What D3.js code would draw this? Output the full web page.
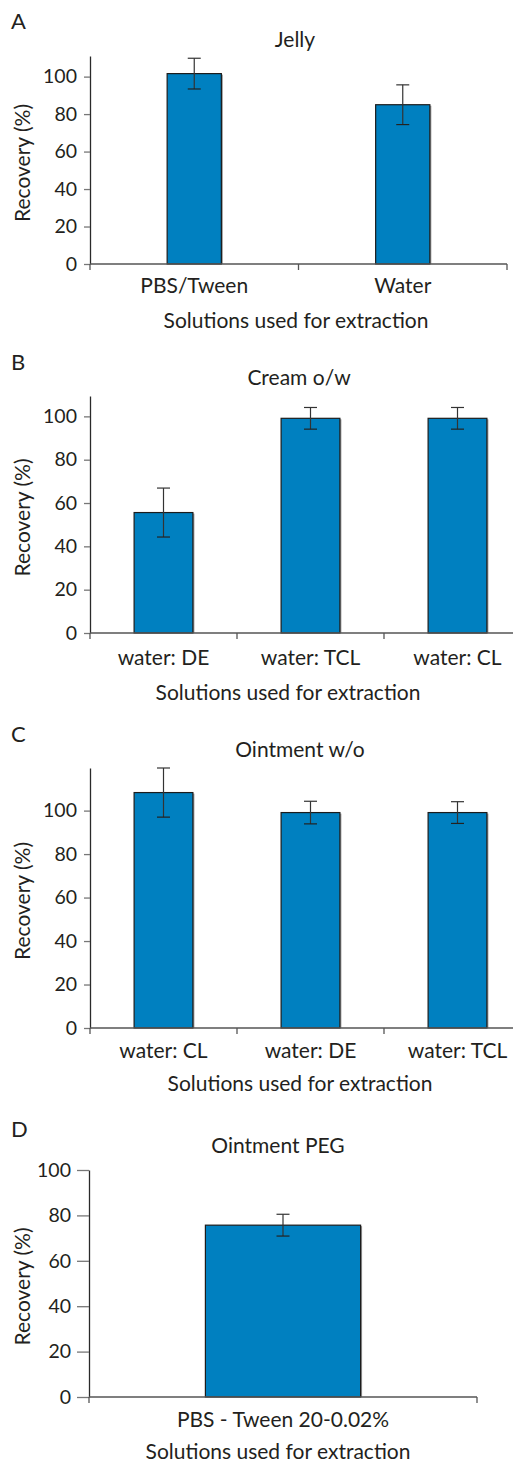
<!DOCTYPE html>
<html><head><meta charset="utf-8">
<script src="https://cdn.jsdelivr.net/npm/d3@7"></script>
<style>
html,body{margin:0;padding:0;background:#fff;}
svg{display:block;}
text{font-family:Lato, "Open Sans", sans-serif; fill:#231f20;}
</style></head>
<body>
<svg id="chart" width="513" height="1464"></svg>
<script>
// ---- data ----
const catsA = ["PBS/Tween", "Water"];
const valsA = [101.6, 85.0];
const errsA = [8.2, 10.6];

const catsB = ["water: DE", "water: TCL", "water: CL"];
const valsB = [55.6, 99.1, 99.1];
const errsB = [11.3, 5.0, 5.0];

const catsC = ["water: CL", "water: DE", "water: TCL"];
const valsC = [108.3, 99.1, 99.1];
const errsC = [11.3, 5.2, 5.0];

const catsD = ["PBS - Tween 20-0.02%"];
const valsD = [75.7];
const errsD = [4.8];

const yTicks = [0, 20, 40, 60, 80, 100];
const xTitle = "Solutions used for extraction";
const yTitle = "Recovery (%)";

// ---- layout ----
const panels = [
  {letter:"A", title:"Jelly", cats:catsA, vals:valsA, errs:errsA, yMax:111,
   x0:90, x1:507, yTop:56, yZero:264, barRatio:0.26, tick:6,
   letterY:29, titleX:295, titleY:47, labY:293, axTX:296, axTY:328},
  {letter:"B", title:"Cream o/w", cats:catsB, vals:valsB, errs:errsB, yMax:109.4,
   x0:90, x1:531, yTop:396, yZero:633, barRatio:0.4, tick:6,
   letterY:370, titleX:299, titleY:385, labY:665, axTX:288, axTY:700},
  {letter:"C", title:"Ointment w/o", cats:catsC, vals:valsC, errs:errsC, yMax:119.6,
   x0:90, x1:531, yTop:768, yZero:1028, barRatio:0.4, tick:6,
   letterY:742, titleX:300, titleY:757, labY:1058, axTX:300, axTY:1091},
  {letter:"D", title:"Ointment PEG", cats:catsD, vals:valsD, errs:errsD, yMax:100,
   x0:89, x1:477, yTop:1170, yZero:1397, barRatio:0.4, tick:12,
   letterY:1137, titleX:278, titleY:1153, labY:1427, axTX:278, axTY:1459}
];

const svg = d3.select("#chart");
const BAR = "#0080c0";
const FS = 21;

panels.forEach(p => {
  const g = svg.append("g");
  const y = d3.scaleLinear().domain([0, p.yMax]).range([p.yZero, p.yTop]);
  const x = d3.scaleBand().domain(p.cats).range([p.x0, p.x1]).padding(0);

  // panel letter
  g.append("text").attr("x", 11).attr("y", p.letterY)
    .attr("font-size", 22).text(p.letter);
  // title
  g.append("text").attr("x", p.titleX).attr("y", p.titleY)
    .attr("text-anchor", "middle").attr("font-size", FS).text(p.title);

  // y axis
  const ya = g.append("g").attr("transform", `translate(${p.x0},0)`)
    .call(d3.axisLeft(y).tickValues(yTicks).tickSize(p.tick).tickSizeOuter(0).tickPadding(p.tick === 12 ? 6 : 7));
  ya.select(".domain").attr("stroke", "#2a2a2a").attr("stroke-width", 1.3);
  ya.selectAll(".tick line").attr("stroke", "#777").attr("stroke-width", 1.3);
  ya.selectAll(".tick text").attr("font-size", 19.5).attr("fill", "#231f20")
    .attr("font-family", "Lato, sans-serif");

  // bars
  const bw = x.bandwidth() * p.barRatio;
  const data = p.cats.map((c, i) => ({c, v: p.vals[i], e: p.errs[i]}));
  // shadow
  g.selectAll(".shadow").data(data).enter().append("rect")
    .attr("x", d => x(d.c) + x.bandwidth()/2 - bw/2 + 1.5)
    .attr("y", d => y(d.v) + 1)
    .attr("width", bw).attr("height", d => p.yZero - y(d.v) - 1)
    .attr("fill", "#9a9a9a");
  g.selectAll(".bar").data(data).enter().append("rect")
    .attr("x", d => x(d.c) + x.bandwidth()/2 - bw/2)
    .attr("y", d => y(d.v))
    .attr("width", bw).attr("height", d => p.yZero - y(d.v))
    .attr("fill", BAR).attr("stroke", "#1c1c1c").attr("stroke-width", 1.2);

  // x axis line and ticks
  g.append("line").attr("x1", p.x0).attr("x2", p.x1)
    .attr("y1", p.yZero).attr("y2", p.yZero)
    .attr("stroke", "#555").attr("stroke-width", 1.3);
  const bounds = d3.range(p.cats.length + 1).map(i => p.x0 + i * x.step());
  g.selectAll(".xt").data(bounds).enter().append("line")
    .attr("x1", d => d).attr("x2", d => d)
    .attr("y1", p.yZero).attr("y2", p.yZero + 6)
    .attr("stroke", "#555").attr("stroke-width", 1.3);

  // error bars
  const cap = 6.5;
  const eb = g.selectAll(".eb").data(data).enter().append("g")
    .attr("transform", d => `translate(${x(d.c) + x.bandwidth()/2},0)`);
  eb.append("line").attr("x1", 0).attr("x2", 0)
    .attr("y1", d => y(d.v + d.e)).attr("y2", d => y(d.v - d.e))
    .attr("stroke", "#333").attr("stroke-width", 1.2);
  eb.append("line").attr("x1", -cap).attr("x2", cap)
    .attr("y1", d => y(d.v + d.e)).attr("y2", d => y(d.v + d.e))
    .attr("stroke", "#333").attr("stroke-width", 1.2);
  eb.append("line").attr("x1", -cap).attr("x2", cap)
    .attr("y1", d => y(d.v - d.e)).attr("y2", d => y(d.v - d.e))
    .attr("stroke", "#222").attr("stroke-width", 1.2);

  // category labels
  g.selectAll(".cl").data(data).enter().append("text")
    .attr("x", d => x(d.c) + x.bandwidth()/2).attr("y", p.labY)
    .attr("text-anchor", "middle").attr("font-size", FS).text(d => d.c);

  // axis titles
  g.append("text").attr("x", p.axTX).attr("y", p.axTY)
    .attr("text-anchor", "middle").attr("font-size", FS).text(xTitle);
  g.append("text")
    .attr("transform", `translate(30,${(p.yTop + p.yZero)/2 + 3}) rotate(-90)`)
    .attr("text-anchor", "middle").attr("font-size", FS).text(yTitle);
});
</script>
</body></html>
